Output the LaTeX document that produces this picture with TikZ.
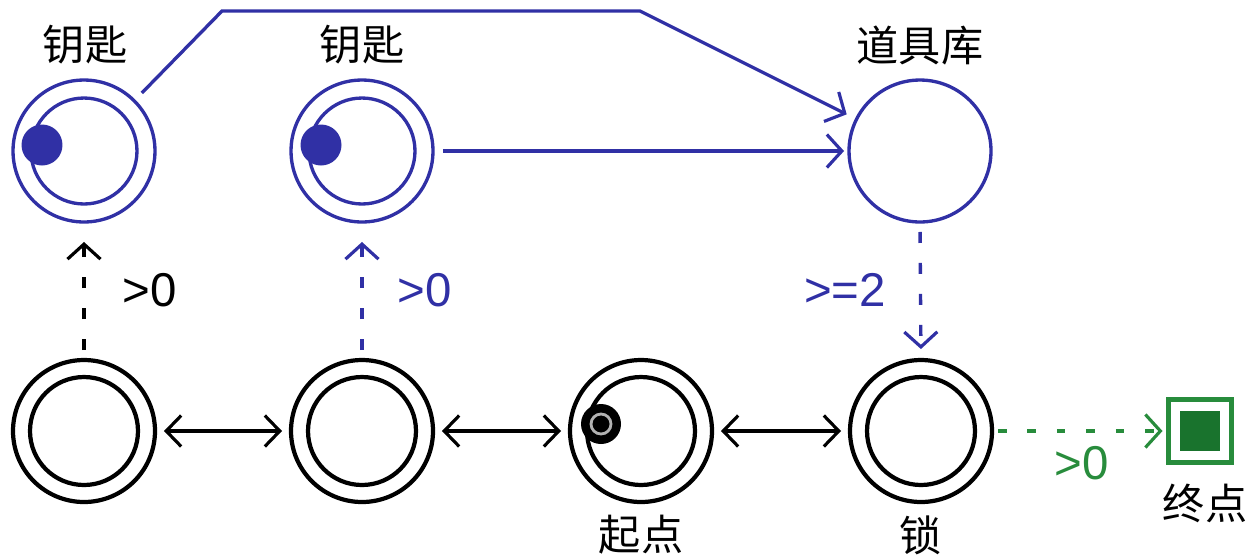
\documentclass[tikz,border=0pt]{standalone}
\usepackage{fontspec}
\setmainfont{Liberation Sans}
\newfontfamily\cjk{Noto Sans CJK SC}
\usetikzlibrary{arrows.meta,calc}
\definecolor{kblue}{RGB}{48,48,165}
\definecolor{kgreen}{RGB}{40,140,60}
\definecolor{kdgreen}{RGB}{25,115,45}
\tikzset{
  st/.style={circle,draw,line width=2.4pt,minimum size=2.84cm,inner sep=0pt,outer sep=0pt},
  bst/.style={st,draw=kblue,line width=1.9pt},
  lab/.style={font=\cjk\fontsize{24}{26}\selectfont,inner sep=0pt},
  num/.style={font=\fontsize{27}{30}\selectfont,inner sep=0pt},
  tip/.style={-{Straight Barb[length=0.3cm,width=0.66cm,line width=1.8pt]}},
  dtip/.style={{Straight Barb[length=0.3cm,width=0.62cm,line width=1.8pt]}-{Straight Barb[length=0.3cm,width=0.62cm,line width=1.8pt]}},
  dsh/.style={dash pattern=on 0.22cm off 0.4cm},
}
\begin{document}
\begin{tikzpicture}[x=0.02cm,y=-0.02cm]
\useasboundingbox (0,0) rectangle (1256,559);
% top row
\node[bst] (k1) at (84,151) {};
\draw[kblue,line width=1.9pt] (k1.center) circle[radius=1.06cm];
\node[circle,fill=kblue,minimum size=0.82cm,inner sep=0pt] (d1) at (42,145) {};
\node[bst] (k2) at (362,151) {};
\draw[kblue,line width=1.9pt] (k2.center) circle[radius=1.06cm];
\node[circle,fill=kblue,minimum size=0.82cm,inner sep=0pt] (d2) at (321,145) {};
\node[bst] (tool) at (920,151) {};
\node[lab] (lk1) at (85,45) {钥匙};
\node[lab] (lk2) at (362,45) {钥匙};
\node[lab] (ltool) at (920,45) {道具库};
% bottom row
\node[st] (b1) at (84,431) {};
\draw[line width=2.4pt] (b1.center) circle[radius=1.08cm];
\node[st] (b2) at (362,431) {};
\draw[line width=2.4pt] (b2.center) circle[radius=1.08cm];
\node[st] (b3) at (641,431) {};
\draw[line width=2.4pt] (b3.center) circle[radius=1.08cm];
\node[st] (b4) at (921,431) {};
\draw[line width=2.4pt] (b4.center) circle[radius=1.08cm];
\node[circle,fill=black,minimum size=0.8cm,inner sep=0pt] (sd) at (601,424) {};
\draw[gray!60,line width=1.6pt] (sd.center) circle[radius=0.2cm];
\node[lab] (lstart) at (641,535) {起点};
\node[lab] (llock) at (921,535) {锁};
% end square
\node[draw=kgreen,line width=2.6pt,minimum size=1.26cm,inner sep=0pt,outer sep=0pt] (end) at (1200,431) {};
\node[fill=kdgreen,minimum size=0.8cm,inner sep=0pt] (endin) at (1200,431) {};
\node[lab] (lend) at (1205,503) {终点};
% connectors top
\coordinate (c1) at (222,11);
\coordinate (c2) at (640,11);
\draw[kblue,line width=1.9pt,tip,shorten <=0.22cm,shorten >=0.22cm] (k1.45) -- (c1) -- (c2) -- (tool);
\draw[kblue,line width=1.9pt,tip,shorten <=0.2cm,shorten >=0.1cm] (k2.east) -- (tool.west);
% dashed verticals
\draw[line width=1.9pt,dsh,tip,shorten <=0.2cm,shorten >=0.4cm] (b1.north) -- (k1.south);
\node[num] (g1) at (150,290) {>0};
\draw[kblue,line width=1.9pt,dsh,tip,shorten <=0.2cm,shorten >=0.4cm] (b2.north) -- (k2.south);
\node[num,text=kblue] (g2) at (425,290) {>0};
\draw[kblue,line width=1.9pt,dsh,tip,shorten <=0.2cm,shorten >=0.22cm] (tool.south) -- (b4.north);
\node[num,text=kblue] (g3) at (845,290) {>=2};
% bottom double arrows
\draw[line width=1.9pt,dtip,shorten <=0.18cm,shorten >=0.18cm] (b1.east) -- (b2.west);
\draw[line width=1.9pt,dtip,shorten <=0.18cm,shorten >=0.18cm] (b2.east) -- (b3.west);
\draw[line width=1.9pt,dtip,shorten <=0.18cm,shorten >=0.18cm] (b3.east) -- (b4.west);
% green
\draw[kgreen,line width=1.9pt,dash pattern=on 0.17cm off 0.42cm,tip,shorten <=0.12cm,shorten >=0.12cm] (b4.east) -- (end.west);
\node[num,text=kgreen] (g4) at (1082,463) {>0};
\end{tikzpicture}
\end{document}
